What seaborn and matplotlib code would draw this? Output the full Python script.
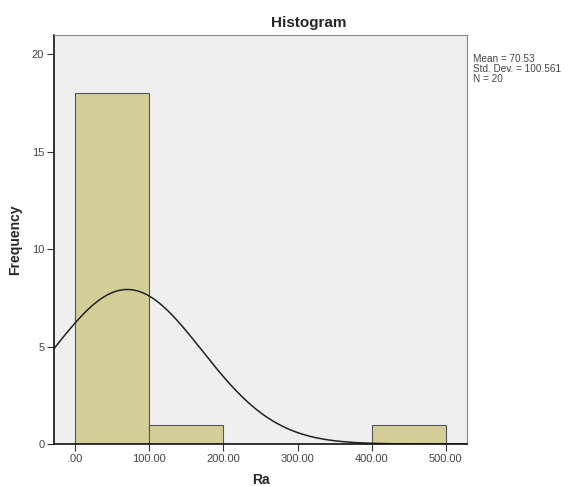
import numpy as np
import pandas as pd
import seaborn as sns
import matplotlib.pyplot as plt

# Histogram bins and counts
bin_edges = [0, 100, 200, 300, 400, 500]
counts = [18, 1, 0, 0, 1]
x_ticks = [0, 100, 200, 300, 400, 500]
x_tick_labels = ['.00', '100.00', '200.00', '300.00', '400.00', '500.00']
y_ticks = [0, 5, 10, 15, 20]

# summary stats shown in the chart
mean_ra = 70.53
sd_ra = 100.561
n_ra = 20

centers = [(a + b) / 2 for a, b in zip(bin_edges[:-1], bin_edges[1:])]
hist_df = pd.DataFrame({'Ra': centers, 'count': counts})

# normal curve scaled to the histogram
xs = np.linspace(-30, 530, 400)
bw = bin_edges[1] - bin_edges[0]
ys = n_ra * bw / (sd_ra * np.sqrt(2 * np.pi)) * np.exp(-0.5 * ((xs - mean_ra) / sd_ra) ** 2)
curve_df = pd.DataFrame({'x': xs, 'y': ys})

sns.set_style('white')
plt.rcParams['font.family'] = ['Liberation Sans', 'DejaVu Sans']

fig = plt.figure(figsize=(5.68, 4.86), dpi=100)
ax = fig.add_axes([0.0951, 0.0864, 0.727, 0.8416])
ax.set_facecolor('#efefef')

sns.histplot(data=hist_df, x='Ra', weights='count', bins=bin_edges,
             color='#d3ce97', edgecolor='#555555', linewidth=0.8, alpha=1, ax=ax)
sns.lineplot(data=curve_df, x='x', y='y', color='#222222', linewidth=1.1, ax=ax)

ax.set_xlim(-28.2, 528.4)
ax.set_ylim(0, 21.0)
ax.set_xticks(x_ticks)
ax.set_xticklabels(x_tick_labels)
ax.set_yticks(y_ticks)
ax.tick_params(axis='both', direction='out', length=5, width=0.8, color='#333333',
               labelsize=8, labelcolor='#444444', pad=2, left=True, bottom=True)

for side in ['top', 'right']:
    ax.spines[side].set_color('#888888')
    ax.spines[side].set_linewidth(0.8)
for side in ['left', 'bottom']:
    ax.spines[side].set_color('#111111')
    ax.spines[side].set_linewidth(1.2)

ax.set_title('Histogram', fontsize=11, fontweight='bold', x=0.617, pad=6)
ax.set_xlabel('Ra', fontsize=10, fontweight='bold', labelpad=7)
ax.set_ylabel('Frequency', fontsize=10, fontweight='bold', labelpad=7)

fig.text(0.832, 0.888, 'Mean = %.2f\nStd. Dev. = %.3f\nN = %d' % (mean_ra, sd_ra, n_ra),
         fontsize=7.2, color='#444444', va='top', ha='left', linespacing=0.95)

fig.savefig('out.png', dpi=100, facecolor='white')
